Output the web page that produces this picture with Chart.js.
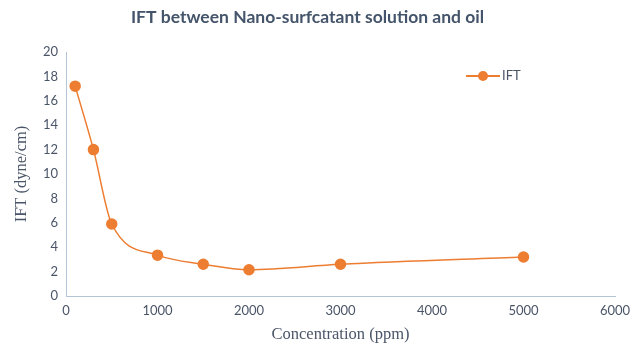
<!DOCTYPE html>
<html>
<head>
<meta charset="utf-8">
<script src="https://cdn.jsdelivr.net/npm/chart.js@4"></script>
<style>
  html, body { margin: 0; padding: 0; background: #fff; }
  #wrap { width: 644px; height: 347px; }
</style>
</head>
<body>
<div id="wrap"><canvas id="chart"></canvas></div>
<script>
const concentration = [100, 300, 500, 1000, 1500, 2000, 3000, 5000];
const ift = [17.2, 12.0, 5.9, 3.35, 2.6, 2.15, 2.6, 3.2];
const seriesName = 'IFT';

const orange = '#ED7D31';
const textColor = '#4a5568';
const axisColor = '#b4c3d6';

// legend is drawn inside the plot, like the Excel original
const insideLegend = {
  id: 'insideLegend',
  afterDraw(chart) {
    const ctx = chart.ctx;
    const x = 466;
    const y = 76;
    ctx.save();
    ctx.strokeStyle = orange;
    ctx.lineWidth = 2;
    ctx.beginPath();
    ctx.moveTo(x, y);
    ctx.lineTo(x + 34, y);
    ctx.stroke();
    ctx.fillStyle = orange;
    ctx.beginPath();
    ctx.arc(x + 17, y, 5, 0, Math.PI * 2);
    ctx.fill();
    ctx.fillStyle = textColor;
    ctx.font = '13px Lato';
    ctx.textBaseline = 'middle';
    ctx.fillText(seriesName, x + 36, y);
    ctx.restore();
  },
};

new Chart(document.getElementById('chart'), {
  type: 'line',
  data: {
    datasets: [
      {
        label: seriesName,
        data: concentration.map((c, i) => ({ x: c, y: ift[i] })),
        borderColor: orange,
        backgroundColor: orange,
        borderWidth: 1.5,
        pointRadius: 5,
        pointHoverRadius: 5,
        cubicInterpolationMode: 'monotone',
      },
    ],
  },
  options: {
    responsive: true,
    maintainAspectRatio: false,
    animation: false,
    layout: {
      padding: { left: 0, right: 29, top: 0, bottom: 0 },
    },
    plugins: {
      legend: { display: false },
      tooltip: { enabled: false },
      title: {
        display: true,
        text: 'IFT between Nano-surfcatant solution and oil',
        color: '#44546a',
        font: { family: 'Lato', size: 17.5, weight: 'bold', lineHeight: 1.2 },
        padding: { top: 7, bottom: 24 },
      },
    },
    scales: {
      x: {
        type: 'linear',
        min: 0,
        max: 6000,
        grid: { display: false, drawTicks: false },
        border: { display: true, color: axisColor, width: 1 },
        ticks: {
          stepSize: 1000,
          padding: 7,
          color: textColor,
          font: { family: 'Lato', size: 13 },
          callback: (v) => String(v),
        },
        title: {
          display: true,
          text: 'Concentration (ppm)',
          color: textColor,
          font: { family: 'Liberation Serif', size: 16.5, lineHeight: 1.2 },
          padding: { top: 4, bottom: 2 },
        },
        afterFit(scale) {
          scale.height = 51;
        },
      },
      y: {
        min: 0,
        max: 20,
        grid: { display: false, drawTicks: false },
        border: { display: true, color: axisColor, width: 1 },
        ticks: {
          stepSize: 2,
          padding: 8,
          color: textColor,
          font: { family: 'Lato', size: 13 },
        },
        title: {
          display: true,
          text: 'IFT (dyne/cm)',
          color: textColor,
          font: { family: 'Liberation Serif', size: 16.5, lineHeight: 1.2 },
          padding: { top: 12, bottom: 0 },
        },
        afterFit(scale) {
          scale.width = 66;
        },
      },
    },
  },
  plugins: [insideLegend],
});
</script>
</body>
</html>
